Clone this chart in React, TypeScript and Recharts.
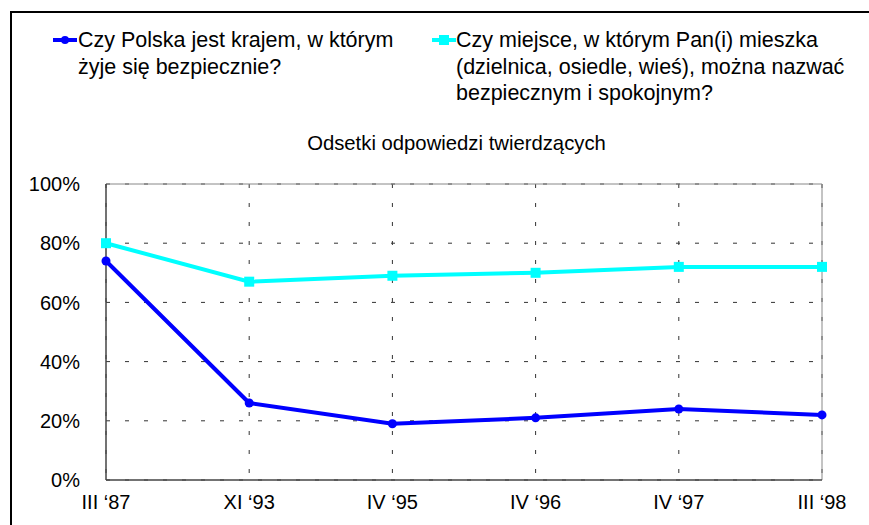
import React from 'react';
import { LineChart, Line, XAxis, YAxis, CartesianGrid, ReferenceLine } from 'recharts';

const categories = ["III \u201887", "XI \u201893", "IV \u201895", "IV \u201896", "IV \u201897", "III \u201898"];
const polskaBezpieczna = [74, 26, 19, 21, 24, 22];
const miejsceBezpieczne = [80, 67, 69, 70, 72, 72];
const yTicks = [0, 20, 40, 60, 80, 100];

const seriesNames = {
  polska: ["Czy Polska jest krajem, w którym", "żyje się bezpiecznie?"],
  miejsce: ["Czy miejsce, w którym Pan(i) mieszka", "(dzielnica, osiedle, wieś), można nazwać", "bezpiecznym i spokojnym?"],
};
const title = "Odsetki odpowiedzi twierdzących";

const data = categories.map((c, i) => ({
  cat: c,
  polska: polskaBezpieczna[i],
  miejsce: miejsceBezpieczne[i],
}));

const BLUE = '#0000FF';
const CYAN = '#00FFFF';
const FONT = 'Arial, "Liberation Sans", Helvetica, sans-serif';

const SquareDot = (props: any) => {
  const { cx, cy } = props;
  if (cx == null || cy == null) return null;
  return <rect x={cx - 5} y={cy - 5} width={10} height={10} fill={CYAN} />;
};

const CircleDot = (props: any) => {
  const { cx, cy } = props;
  if (cx == null || cy == null) return null;
  return <circle cx={cx} cy={cy} r={4.5} fill={BLUE} />;
};

const LegendItem = ({ left, markerLeft, color, kind, lines }: any) => (
  <>
    <svg style={{ position: 'absolute', left: markerLeft, top: 34 }} width={24} height={12}>
      <line x1={0} y1={6} x2={24} y2={6} stroke={color} strokeWidth={4} />
      {kind === 'circle' ? (
        <circle cx={12} cy={6} r={4} fill={color} />
      ) : (
        <rect x={7} y={1} width={10} height={10} fill={color} />
      )}
    </svg>
    <div
      style={{
        position: 'absolute',
        left,
        top: 27,
        fontFamily: FONT,
        fontSize: 21.5,
        lineHeight: '26.5px',
        whiteSpace: 'nowrap',
        color: '#000',
      }}
    >
      {lines.map((l: string, i: number) => (
        <div key={i}>{l}</div>
      ))}
    </div>
  </>
);

export default function App() {
  return (
    <div style={{ position: 'absolute', left: 0, top: 0, width: 869, height: 525, background: '#fff', overflow: 'hidden' }}>
      <div style={{ position: 'absolute', left: 10, top: 11, width: 859, height: 2, background: '#000' }} />
      <div style={{ position: 'absolute', left: 10, top: 11, width: 2, height: 514, background: '#000' }} />

      <LegendItem left={78} markerLeft={53} color={BLUE} kind="circle" lines={seriesNames.polska} />
      <LegendItem left={456} markerLeft={432} color={CYAN} kind="square" lines={seriesNames.miejsce} />

      <div
        style={{
          position: 'absolute',
          left: 0,
          width: 913,
          top: 133,
          textAlign: 'center',
          fontFamily: FONT,
          fontSize: 20.3,
          lineHeight: '20px',
          color: '#000',
        }}
      >
        {title}
      </div>

      <div style={{ position: 'absolute', left: 0, top: 0 }}>
        <LineChart width={869} height={525} data={data} margin={{ top: 184, right: 47, left: 0, bottom: 0 }}>
          <CartesianGrid stroke="#333" strokeDasharray="4 15" />
          <ReferenceLine y={100} stroke="#888" strokeWidth={1} ifOverflow="extendDomain" />
          <ReferenceLine x={categories[categories.length - 1]} stroke="#888" strokeWidth={1} />
          <XAxis
            dataKey="cat"
            height={45}
            tickLine={false}
            tickSize={0}
            tickMargin={15}
            axisLine={{ stroke: '#444', strokeWidth: 1.5 }}
            tick={{ fill: '#000', fontSize: 20, fontFamily: FONT }}
            interval={0}
          />
          <YAxis
            width={106}
            domain={[0, 100]}
            ticks={yTicks}
            tickFormatter={(v: number) => `${v}%`}
            tickLine={false}
            tickSize={0}
            tickMargin={26}
            axisLine={{ stroke: '#444', strokeWidth: 1.5 }}
            tick={{ fill: '#000', fontSize: 20, fontFamily: FONT }}
            interval={0}
          />
          <Line
            dataKey="miejsce"
            stroke={CYAN}
            strokeWidth={4}
            dot={<SquareDot />}
            activeDot={false}
            isAnimationActive={false}
          />
          <Line
            dataKey="polska"
            stroke={BLUE}
            strokeWidth={4}
            dot={<CircleDot />}
            activeDot={false}
            isAnimationActive={false}
          />
        </LineChart>
      </div>
    </div>
  );
}
